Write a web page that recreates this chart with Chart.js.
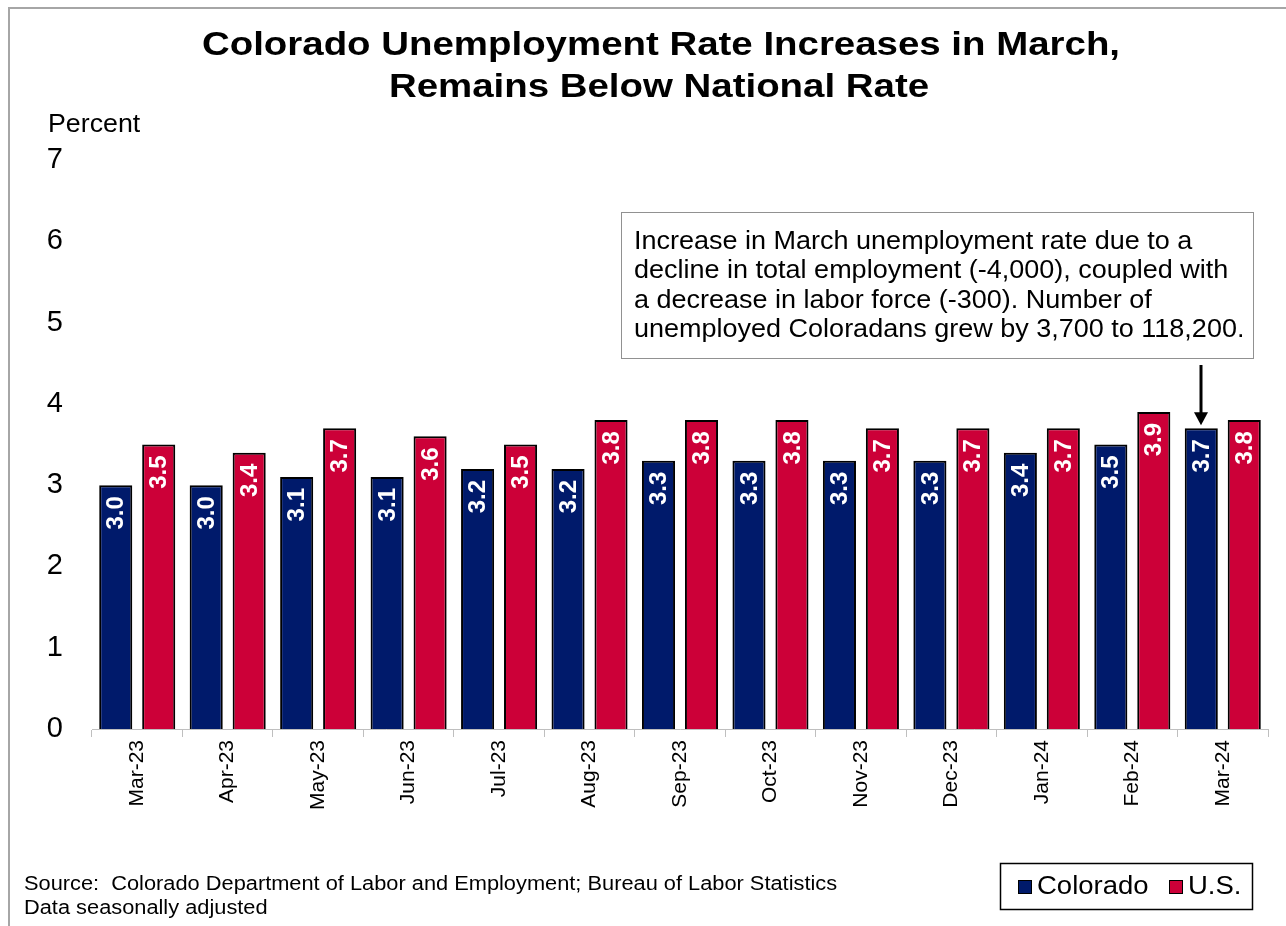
<!DOCTYPE html>
<html>
<head>
<meta charset="utf-8">
<script src="https://cdn.jsdelivr.net/npm/chart.js@4.4.1/dist/chart.umd.min.js"></script>
<style>
  html, body { margin: 0; padding: 0; background: #fff; }
  #wrap { width: 1286px; height: 926px; position: relative; }
</style>
</head>
<body>
<div id="wrap"><canvas id="myChart" width="1286" height="926"></canvas></div>
<script>
const months = ['Mar-23','Apr-23','May-23','Jun-23','Jul-23','Aug-23','Sep-23','Oct-23','Nov-23','Dec-23','Jan-24','Feb-24','Mar-24'];
const colorado = [3.0,3.0,3.1,3.1,3.2,3.2,3.3,3.3,3.3,3.3,3.4,3.5,3.7];
const usRate = [3.5,3.4,3.7,3.6,3.5,3.8,3.8,3.8,3.7,3.7,3.7,3.9,3.8];
const yTicks = [0,1,2,3,4,5,6,7];

const titleLines = ['Colorado Unemployment Rate Increases in March,', 'Remains Below National Rate'];
const noteLines = [
  'Increase in March unemployment rate due to a',
  'decline in total employment (-4,000), coupled with',
  'a decrease in labor force (-300). Number of',
  'unemployed Coloradans grew by 3,700 to 118,200.'
];
const sourceLines = ['Source:  Colorado Department of Labor and Employment; Bureau of Labor Statistics', 'Data seasonally adjusted'];

const NAVY = '#001A6B';
const RED = '#CC0038';
const FONT = 'Arial, "Liberation Sans", sans-serif';

// text drawn slightly wider than the font's own metrics
function wideText(ctx, text, x, y, sx) {
  ctx.save();
  ctx.translate(x, y);
  ctx.scale(sx, 1);
  ctx.fillText(text, 0, 0);
  ctx.restore();
}

// white value labels, rotated, just inside the top of each bar
const barLabels = {
  id: 'barLabels',
  afterDatasetsDraw(chart) {
    const ctx = chart.ctx;
    ctx.save();
    ctx.fillStyle = '#fff';
    ctx.font = 'bold 24px ' + FONT;
    ctx.textAlign = 'right';
    ctx.textBaseline = 'middle';
    chart.data.datasets.forEach((ds, i) => {
      chart.getDatasetMeta(i).data.forEach((bar, j) => {
        ctx.save();
        ctx.translate(bar.x + 1, bar.y + 11);
        ctx.rotate(-Math.PI / 2);
        ctx.fillText(ds.data[j].toFixed(1), 0, 0);
        ctx.restore();
      });
    });
    ctx.restore();
  }
};

// title, frame, note box, arrow, legend and source text
const decorations = {
  id: 'decorations',
  afterDraw(chart) {
    const ctx = chart.ctx;
    ctx.save();

    ctx.strokeStyle = '#a6a6a6';
    ctx.lineWidth = 2;
    ctx.beginPath();
    ctx.moveTo(9, 926);
    ctx.lineTo(9, 8);
    ctx.lineTo(1286, 8);
    ctx.stroke();

    ctx.fillStyle = '#000';
    ctx.textAlign = 'center';
    ctx.textBaseline = 'middle';
    ctx.font = 'bold 34px ' + FONT;
    wideText(ctx, titleLines[0], 661, 46, 1.13);
    wideText(ctx, titleLines[1], 659, 88, 1.13);

    ctx.textAlign = 'left';
    ctx.font = '25px ' + FONT;
    wideText(ctx, 'Percent', 48, 125, 1.07);

    // note box
    ctx.strokeStyle = '#222';
    ctx.lineWidth = 1;
    ctx.setLineDash([1, 1]);
    ctx.strokeRect(621.5, 212.5, 632, 146);
    ctx.setLineDash([]);
    ctx.font = '25px ' + FONT;
    noteLines.forEach((t, i) => wideText(ctx, t, 634, 242 + i * 29.5, 1.08));

    // arrow to the latest Colorado bar
    const bar = chart.getDatasetMeta(0).data[colorado.length - 1];
    const ax = Math.round(bar.x);
    ctx.strokeStyle = '#000';
    ctx.lineWidth = 3;
    ctx.beginPath();
    ctx.moveTo(ax, 365);
    ctx.lineTo(ax, bar.y - 14);
    ctx.stroke();
    ctx.fillStyle = '#000';
    ctx.beginPath();
    ctx.moveTo(ax - 7, bar.y - 16);
    ctx.lineTo(ax + 7, bar.y - 16);
    ctx.lineTo(ax, bar.y - 3);
    ctx.closePath();
    ctx.fill();

    // legend
    ctx.lineWidth = 1.5;
    ctx.strokeRect(1000.5, 863.5, 252, 46);
    ctx.font = '25px ' + FONT;
    ctx.textBaseline = 'middle';
    [[NAVY, 'Colorado', 1018], [RED, 'U.S.', 1169]].forEach(([c, t, x]) => {
      ctx.fillStyle = c;
      ctx.fillRect(x, 880, 14, 14);
      ctx.strokeStyle = '#000';
      ctx.lineWidth = 1;
      ctx.strokeRect(x + 0.5, 880.5, 13, 13);
      ctx.fillStyle = '#000';
      wideText(ctx, t, x + 19, 887, 1.1);
    });

    // source
    ctx.font = '20px ' + FONT;
    wideText(ctx, sourceLines[0], 24, 884, 1.09);
    wideText(ctx, sourceLines[1], 24, 908, 1.09);

    ctx.restore();
  }
};

const data = {
  labels: months,
  datasets: [
    { label: 'Colorado', data: colorado, backgroundColor: NAVY, borderColor: '#000', borderWidth: 2 },
    { label: 'U.S.', data: usRate, backgroundColor: RED, borderColor: '#000', borderWidth: 2 }
  ]
};

const config = {
  type: 'bar',
  data: data,
  options: {
    responsive: false,
    animation: false,
    layout: { padding: { top: 160, left: 0, right: 18, bottom: 100 } },
    datasets: { bar: { categoryPercentage: 0.95, barPercentage: 0.77 } },
    plugins: { legend: { display: false }, tooltip: { enabled: false }, title: { display: false } },
    scales: {
      x: {
        grid: { display: true, drawOnChartArea: false, drawTicks: true, tickLength: 8, color: '#bfbfbf', offset: true },
        border: { display: true, color: '#bfbfbf', width: 1 },
        ticks: { color: '#000', font: { family: FONT, size: 21 }, minRotation: 90, maxRotation: 90, autoSkip: false, padding: 3 },
        afterFit(scale) { scale.height = 97; }
      },
      y: {
        min: 0, max: 7,
        grid: { display: false, drawTicks: false },
        border: { display: false },
        afterBuildTicks(scale) { scale.ticks = yTicks.map(v => ({ value: v })); },
        ticks: { color: '#000', font: { family: FONT, size: 29 }, padding: 29 },
        afterFit(scale) { scale.width = 92; }
      }
    }
  },
  plugins: [barLabels, decorations]
};

var myChart = new Chart(document.getElementById('myChart'), config);
</script>
</body>
</html>
